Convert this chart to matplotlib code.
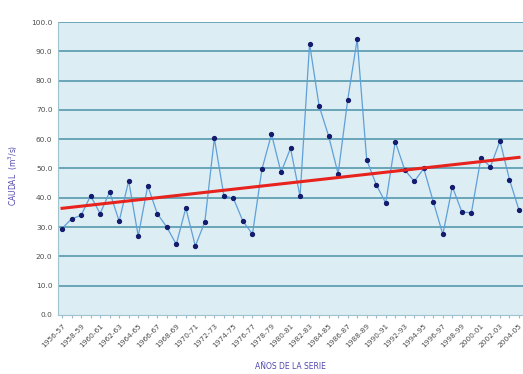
import numpy as np
import matplotlib.pyplot as plt

years = [f"{y}-{str(y + 1)[-2:]}" for y in range(1956, 2005)]
caudal = [29.5, 32.8, 34.0, 40.7, 34.6, 42.0, 32.0, 45.8, 26.9, 44.1,
          34.6, 30.0, 24.1, 36.5, 23.5, 31.8, 60.3, 40.7, 39.8, 32.0,
          27.6, 49.8, 61.7, 48.7, 56.9, 40.5, 92.6, 71.4, 61.1, 48.2,
          73.3, 94.1, 53.0, 44.5, 38.2, 59.2, 49.5, 45.6, 50.0, 38.6,
          27.5, 43.8, 35.1, 34.9, 53.6, 50.6, 59.4, 46.2, 35.8]
trend_ends = [36.4, 53.8]

x = np.arange(len(years))

fig = plt.figure(figsize=(5.23, 3.74), dpi=100)
ax = fig.add_axes([0.111, 0.158, 0.889, 0.783])
ax.set_facecolor('#dcedf4')

for v in range(10, 101, 10):
    ax.axhline(v, color='#5f9fb3', lw=1.3, zorder=1)

ax.plot(x, caudal, color='#5fa0d8', lw=0.9, zorder=2)
ax.plot(x, caudal, 'o', color='#151c6e', ms=2.8, zorder=3)
ax.plot([x[0], x[-1]], trend_ends, color='#e8221c', lw=2.2, zorder=4)

ax.set_xlim(-0.42, len(years) - 0.58)
ax.set_ylim(0, 100)
ax.set_yticks(range(0, 101, 10))
ax.set_yticklabels([f"{v:.1f}" for v in range(0, 101, 10)])
ax.set_xticks(x)
ax.set_xticklabels([lab if i % 2 == 0 else '' for i, lab in enumerate(years)],
                   rotation=45, ha='right', rotation_mode='anchor')
ax.tick_params(axis='x', length=2.5, color='#9fb8c2', labelsize=5.3,
               labelcolor='#4d4d4d', pad=3)
ax.tick_params(axis='y', length=0, labelsize=5.3, labelcolor='#4d4d4d', pad=4)

for s in ['top', 'right']:
    ax.spines[s].set_visible(False)
ax.spines['left'].set_color('#9fc2cf')
ax.spines['bottom'].set_color('#9fc2cf')

ax.set_ylabel('CAUDAL  (m$^3$/s)', color='#4f48ae', fontsize=5.5)
ax.yaxis.set_label_coords(-0.082, 0.478)
ax.set_xlabel('AÑOS DE LA SERIE', color='#4f48ae', fontsize=5.5)
ax.xaxis.set_label_coords(0.5, -0.16)

plt.savefig('out.png', dpi=100)
